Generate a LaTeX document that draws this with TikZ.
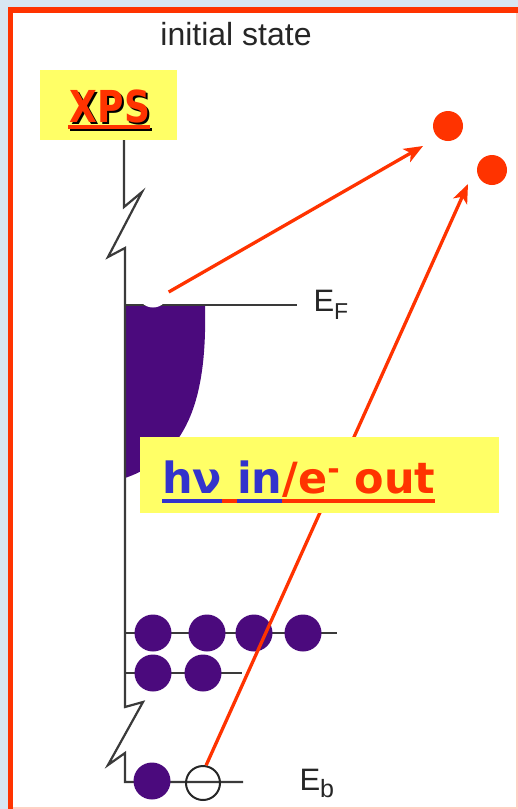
\documentclass[tikz,border=0pt]{standalone}
\usepackage{fontspec}
\setmainfont{Liberation Sans}
\newfontfamily\comic{DejaVu Sans}
\usetikzlibrary{arrows.meta}
\definecolor{bgblue}{HTML}{D8E6F2}
\definecolor{framered}{HTML}{FF3300}
\definecolor{ylw}{HTML}{FFFF66}
\definecolor{purp}{HTML}{4B0A7D}
\definecolor{txtblue}{HTML}{3333CC}
\definecolor{axisgray}{HTML}{3A3A3A}
\definecolor{edgepink}{HTML}{FFD0C4}
\newcommand\myul[2]{\setbox0\hbox{#2}\rlap{\color{#1}\rule[-10pt]{\wd0}{4pt}}\box0}
\newcommand\shadowtext[1]{\rlap{\hspace{2.5pt}\raisebox{-2.5pt}{\color{black}#1}}{\color{framered}#1}}
\tikzset{
  axisline/.style={draw=axisgray, line width=2.2pt},
  pdot/.style={circle, fill=purp, minimum size=37pt, inner sep=0pt},
  rdot/.style={circle, fill=framered, minimum size=30pt, inner sep=0pt},
  redarrow/.style={draw=framered, line width=3.3pt, -{Stealth[length=19pt,width=15pt,inset=5pt]}},
  ybox/.style={fill=ylw, anchor=north west, inner sep=0pt},
  elabel/.style={anchor=base west, text=black!85, font=\fontsize{31}{31}\selectfont},
}
\begin{document}
\begin{tikzpicture}[x=1pt,y=-1pt]
\useasboundingbox (0,0) rectangle (518,809);
% background and frame
\fill[bgblue] (0,0) rectangle (518,809);
\fill[framered] (8,7) rectangle (518,809);
\fill[white] (13,13) rectangle (517,808);
\draw[edgepink, line width=1.2pt] (517,13) -- (517,808) -- (13,808);
% title
\node[anchor=base, text=black!85, font=\fontsize{32}{32}\selectfont] (title) at (236,45) {initial state};
% XPS box
\node[ybox, minimum width=137pt, minimum height=70pt] (xpsbox) at (40,70) {};
\node[anchor=base, inner sep=0pt, font=\comic\bfseries\fontsize{44}{44}\selectfont] (xps) at (110,122) {\scalebox{0.82}[1]{\shadowtext{XPS}}};
\draw[black, line width=3.5pt] (70,129.5) -- (152,129.5);
\draw[framered, line width=3.5pt] (68,127) -- (150,127);
% valence band
\fill[purp] (125,305) -- (205,305) .. controls (207,390) and (192,455) .. (125,478) -- cycle;
% axis with breaks
\draw[axisline, line join=miter] (124,140) -- (124,207) -- (142,192) -- (108,257) -- (125,248) -- (125,707) -- (143,702) -- (108,765) -- (125,753) -- (125,782) -- (243,782);
\draw[axisline] (125,305) -- (297,305);
\draw[axisline] (125,633) -- (337,633);
\draw[axisline] (125,673) -- (242,673);
% hole at Fermi level
\node[circle, fill=white, minimum size=31pt, inner sep=0pt] (hole) at (153,292) {};
% labels
\node[elabel] (ef) at (310,311) {E\raisebox{-8pt}{\fontsize{23}{23}\selectfont F}};
\node[elabel] (eb) at (296,790) {E\raisebox{-7pt}{\fontsize{25}{25}\selectfont b}};
% core levels
\node[pdot] (a1) at (153,633) {};
\node[pdot] (a2) at (207,633) {};
\node[pdot] (a3) at (254,633) {};
\node[pdot] (a4) at (303,633) {};
\node[pdot] (b1) at (153,673) {};
\node[pdot] (b2) at (203,673) {};
\node[pdot] (c1) at (152,781) {};
\node[circle, draw=black!85, line width=2pt, minimum size=34pt, inner sep=0pt] (oc) at (203,783) {};
% emitted electrons
\node[rdot] (e1) at (448,126) {};
\node[rdot] (e2) at (492,170) {};
\coordinate (t1) at (423,146);
\coordinate (t2) at (468,184);
\draw[redarrow] (hole.east) -- (t1);
\draw[redarrow] (oc.80) -- (t2);
% h nu box
\node[ybox, minimum width=359pt, minimum height=76pt] (hvbox) at (140,437) {};
\node[anchor=base west, inner sep=0pt, font=\comic\bfseries\fontsize{43}{43}\selectfont] (hv) at (162,493)
  {\myul{txtblue}{\color{txtblue}hν}\myul{framered}{\ }\myul{txtblue}{\color{txtblue}in}\myul{framered}{\color{framered}/e\raisebox{14pt}{\fontsize{30}{30}\selectfont -}\ out}};
\end{tikzpicture}
\end{document}
